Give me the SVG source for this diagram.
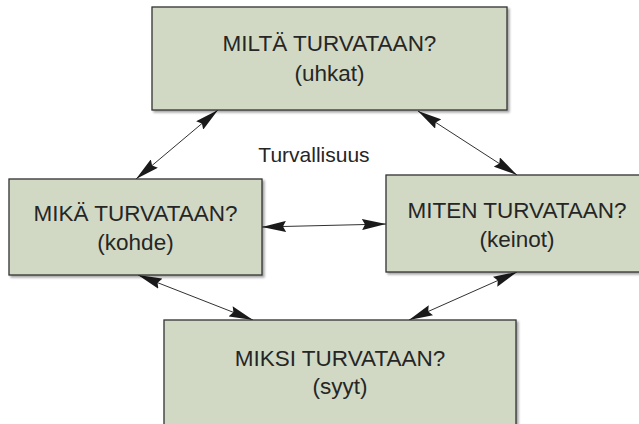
<svg xmlns="http://www.w3.org/2000/svg" width="639" height="424" viewBox="0 0 639 424">
  <defs>
    <marker id="head" viewBox="0 0 24 11" markerWidth="24" markerHeight="11" markerUnits="userSpaceOnUse" refX="24" refY="5.5" orient="auto-start-reverse">
      <path d="M0,0 L24,5.5 L0,11 L3,5.5 z" fill="#1a1a1a"/>
    </marker>
    <filter id="shadow" x="-5%" y="-5%" width="112%" height="115%">
      <feDropShadow dx="2" dy="2" stdDeviation="1" flood-color="#000" flood-opacity="0.35"/>
    </filter>
  </defs>
  <style>
    .box { fill: #d1d9c5; stroke: #333333; stroke-width: 1.3; filter: url(#shadow); }
    .label { font-family: "Liberation Sans", Arial, sans-serif; font-size: 22.5px; fill: #262626; text-anchor: middle; }
    .title { font-family: "Liberation Sans", Arial, sans-serif; font-size: 21px; fill: #262626; text-anchor: middle; }
    .link { stroke: #1a1a1a; stroke-width: 0.9; fill: none; marker-start: url(#head); marker-end: url(#head); }
  </style>
  <rect width="639" height="424" fill="#ffffff"/>

  <g id="connectors">
    <line class="link" x1="218" y1="110" x2="136" y2="179"/>
    <line class="link" x1="418" y1="111" x2="517" y2="175"/>
    <line class="link" x1="262" y1="227" x2="386" y2="224"/>
    <line class="link" x1="138" y1="275" x2="253" y2="320"/>
    <line class="link" x1="409" y1="320" x2="517" y2="272"/>
  </g>

  <g id="node-milta">
    <rect class="box" x="152" y="7" width="355" height="103"/>
    <text class="label" x="329.5" y="51">MILTÄ TURVATAAN?</text>
    <text class="label" x="329.5" y="81">(uhkat)</text>
  </g>

  <g id="node-mika">
    <rect class="box" x="9" y="179" width="253" height="96"/>
    <text class="label" x="135.5" y="221">MIKÄ TURVATAAN?</text>
    <text class="label" x="135.5" y="250">(kohde)</text>
  </g>

  <g id="node-miten">
    <rect class="box" x="386" y="175" width="262" height="97"/>
    <text class="label" x="517" y="218">MITEN TURVATAAN?</text>
    <text class="label" x="517" y="247">(keinot)</text>
  </g>

  <g id="node-miksi">
    <rect class="box" x="164" y="320" width="352" height="120"/>
    <text class="label" x="340" y="366">MIKSI TURVATAAN?</text>
    <text class="label" x="340" y="394">(syyt)</text>
  </g>

  <text class="title" x="314" y="162">Turvallisuus</text>
</svg>
